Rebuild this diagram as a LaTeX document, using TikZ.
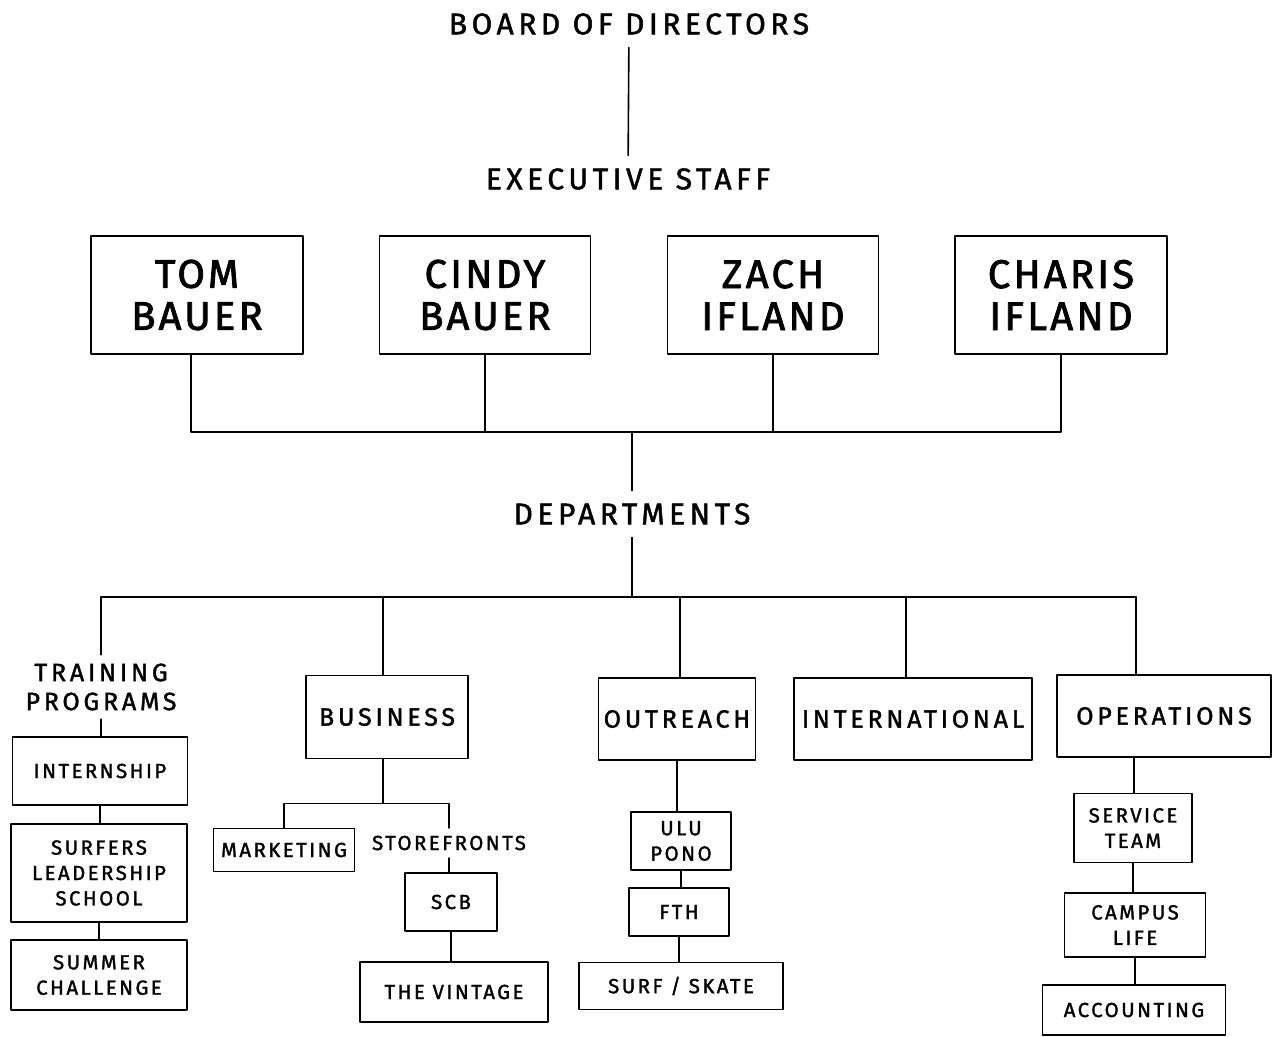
\documentclass[tikz,border=0pt]{standalone}
\usepackage{fontspec}
\setmainfont{Fira Sans}
\newfontfamily\headfont{Fira Sans}[LetterSpace=15,FakeBold=1.5]
\newfontfamily\namefont{Fira Sans}[LetterSpace=8,FakeBold=2]
\newfontfamily\deptfont{Fira Sans}[LetterSpace=15,FakeBold=1.5]
\newfontfamily\unitfont{Fira Sans}[LetterSpace=12,FakeBold=1.5]
\usetikzlibrary{positioning}

\tikzset{
  wh/.style 2 args={minimum width=#1*0.5pt,minimum height=#2*0.5pt},
  headtext/.style={inner sep=6pt,align=center,font=\headfont\fontsize{15}{17}\selectfont},
  namebox/.style={draw,inner sep=0pt,align=center,font=\namefont\fontsize{20}{21}\selectfont},
  deptbox/.style={draw,inner sep=0pt,align=center,font=\deptfont\fontsize{12.5}{14}\selectfont},
  depttext/.style={inner sep=4pt,align=center,font=\deptfont\fontsize{12.5}{14.5}\selectfont},
  unitbox/.style={draw,inner sep=0pt,align=center,font=\unitfont\fontsize{10.2}{12.7}\selectfont},
  unittext/.style={inner sep=3.5pt,align=center,font=\unitfont\fontsize{10.2}{12.7}\selectfont},
}

\begin{document}
\begin{tikzpicture}[x=0.5pt,y=-0.5pt,line cap=round,line join=round,line width=0.8pt]
    \useasboundingbox (0,0) rectangle (1275,1037);
    % board and executives
    \node[headtext] (board) at (629,24) {BOARD OF DIRECTORS};
    \node[headtext] (exec) at (628,179) {EXECUTIVE STAFF};
    \node[namebox,wh={212}{118}] (tom) at (197,295) {TOM\\BAUER};
    \node[namebox,wh={211}{118}] (cindy) at (485,295) {CINDY\\BAUER};
    \node[namebox,wh={211}{118}] (zach) at (773,295) {ZACH\\IFLAND};
    \node[namebox,wh={212}{118}] (charis) at (1061,295) {CHARIS\\IFLAND};
    \coordinate (execbus) at (632,432);
    \node[headtext] (depts) at (632,514) {DEPARTMENTS};
    \coordinate (deptbus) at (632,597);

    % departments
    \node[depttext] (training) at (101,687) {TRAINING\\PROGRAMS};
    \node[deptbox,wh={162}{83}] (business) at (387,717) {BUSINESS};
    \node[deptbox,wh={157}{82}] (outreach) at (677,719) {OUTREACH};
    \node[deptbox,wh={238}{82}] (international) at (913,719) {INTERNATIONAL};
    \node[deptbox,wh={214}{82}] (operations) at (1164,716) {OPERATIONS};

    % units
    \node[unitbox,wh={175}{68}] (internship) at (100,771) {INTERNSHIP};
    \node[unitbox,wh={176}{98}] (surfers) at (99,873) {SURFERS\\LEADERSHIP\\SCHOOL};
    \node[unitbox,wh={176}{70}] (summer) at (99,975) {SUMMER\\CHALLENGE};
    \node[unitbox,wh={141}{43}] (marketing) at (284,850) {MARKETING};
    \node[unittext] (storefronts) at (449,843) {STOREFRONTS};
    \node[unitbox,wh={92}{58}] (scb) at (451,902) {SCB};
    \node[unitbox,wh={188}{60}] (vintage) at (454,992) {THE VINTAGE};
    \node[unitbox,wh={100}{58}] (ulu) at (681,841) {ULU\\PONO};
    \node[unitbox,wh={100}{48}] (fth) at (679,912) {FTH};
    \node[unitbox,wh={204}{47}] (surf) at (681,986) {SURF / SKATE};
    \node[unitbox,wh={118}{69}] (service) at (1133,828) {SERVICE\\TEAM};
    \node[unitbox,wh={141}{64}] (campus) at (1135,925) {CAMPUS\\LIFE};
    \node[unitbox,wh={183}{50}] (accounting) at (1134,1010) {ACCOUNTING};

    % connectors
    \draw (board) -- (exec);
    \draw ([xshift=-3pt]tom.south) |- (execbus);
    \draw (charis.south) |- (execbus);
    \foreach \n in {cindy,zach}
    \draw (\n.south) -- (\n.south |- execbus);
    \draw (execbus) -- (depts);
    \draw (depts) -- (deptbus);
    \draw (training.north |- deptbus) -- ([xshift=-14pt]operations.north |- deptbus);
    \draw (training.north |- deptbus) -- (training.north);
    \draw ([xshift=-2pt]business.north |- deptbus) -- ([xshift=-2pt]business.north);
    \draw ([xshift=1.5pt]outreach.north |- deptbus) -- ([xshift=1.5pt]outreach.north);
    \draw ([xshift=-3.5pt]international.north |- deptbus) -- ([xshift=-3.5pt]international.north);
    \draw ([xshift=-14pt]operations.north |- deptbus) -- ([xshift=-14pt]operations.north);
    \draw (training.south) -- (training.south |- internship.north);
    \draw ([xshift=-2pt]business.south) -- ++(0,-22pt) coordinate (busbus);
    \draw (marketing.north) |- (busbus);
    \draw (storefronts.north) |- (busbus);
    \draw (storefronts.south) -- (storefronts.south |- scb.north);
    \draw (outreach.south) -- (outreach.south |- ulu.north);
    \draw ([xshift=-15pt]operations.south) -- ([xshift=-15pt]operations.south |- service.north);
    \foreach \a/\b in {internship/surfers,surfers/summer,scb/vintage,ulu/fth,fth/surf,service/campus,campus/accounting}
    \draw (\a.south) -- (\a.south |- \b.north);
\end{tikzpicture}
\end{document}
